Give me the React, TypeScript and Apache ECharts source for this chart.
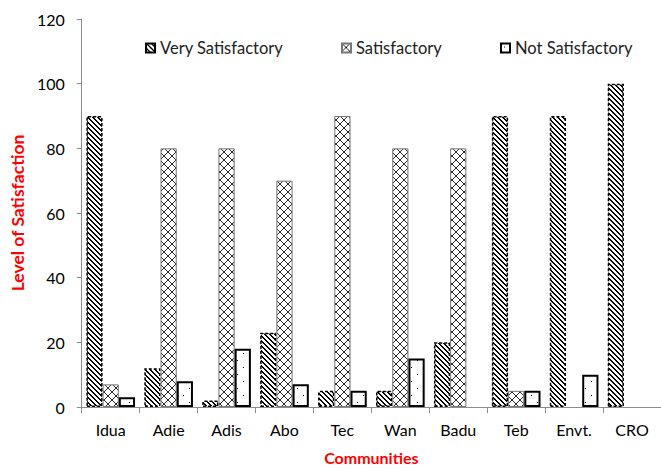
import React, { useEffect, useRef } from "react";
import * as echarts from "echarts";

const categories = ["Idua", "Adie", "Adis", "Abo", "Tec", "Wan", "Badu", "Teb", "Envt.", "CRO"];
const verySatisfactory = [90, 12, 2, 23, 5, 5, 20, 90, 90, 100];
const satisfactory = [7, 80, 80, 70, 90, 80, 80, 5, 0, 0];
const notSatisfactory = [3, 8, 18, 7, 5, 15, 0, 5, 10, 0];
const yTicks = { min: 0, max: 120, interval: 20 };

const FONT = "Lato, 'Open Sans', sans-serif";

function makeTile(w: number, h: number, pixels: Array<[number, number]>, ink: string) {
  const c = document.createElement("canvas");
  c.width = w;
  c.height = h;
  const ctx = c.getContext("2d")!;
  ctx.fillStyle = "#ffffff";
  ctx.fillRect(0, 0, w, h);
  ctx.fillStyle = ink;
  pixels.forEach(([x, y]) => ctx.fillRect(x, y, 1, 1));
  return c;
}

function diagPattern() {
  const n = 5;
  const px: Array<[number, number]> = [];
  for (let i = 0; i < n; i++) {
    px.push([i, i]);
    px.push([(i + 1) % n, i]);
  }
  return { image: makeTile(n, n, px, "#000000"), repeat: "repeat", imageWidth: n, imageHeight: n };
}

function lattice() {
  const n = 8;
  const px: Array<[number, number]> = [];
  for (let i = 0; i < n; i++) {
    px.push([i, i]);
    px.push([n - 1 - i, i]);
  }
  return { image: makeTile(n, n, px, "#2a2a2a"), repeat: "repeat", imageWidth: n, imageHeight: n };
}

function dots() {
  const w = 12, h = 14;
  const px: Array<[number, number]> = [[3, 3], [9, 10]];
  return { image: makeTile(w, h, px, "#000000"), repeat: "repeat", imageWidth: w, imageHeight: h };
}

const withHiddenZero = (arr: number[]) =>
  arr.map((v) => (v === 0 ? { value: v, itemStyle: { borderWidth: 0 } } : v));

export default function App() {
  const ref = useRef<HTMLDivElement>(null);
  useEffect(() => {
    if (!ref.current) return;
    const chart = echarts.init(ref.current, null, { renderer: "svg" });
    const legendText = { fontFamily: FONT, fontSize: 16.5, color: "#222", lineHeight: 18 };
    const legendBase = { top: 39, padding: 0, itemWidth: 9, itemHeight: 9, icon: "rect", textStyle: legendText };
    chart.setOption({
      animation: false,
      backgroundColor: "#ffffff",
      grid: { left: 81, right: -10, top: 19, bottom: 55, containLabel: false },
      legend: [
        { ...legendBase, left: 145, data: ["Very Satisfactory"] },
        { ...legendBase, left: 341, data: ["Satisfactory"] },
        { ...legendBase, left: 500, data: ["Not Satisfactory"] },
      ],
      xAxis: {
        type: "category",
        data: categories,
        name: "Communities",
        nameLocation: "middle",
        nameGap: 42,
        nameTextStyle: { color: "#ff0000", fontWeight: "bold", fontSize: 16, fontFamily: FONT },
        axisLine: { lineStyle: { color: "#8c8c8c", width: 1 } },
        axisTick: { show: true, length: 6, lineStyle: { color: "#8c8c8c" } },
        axisLabel: { color: "#000", fontSize: 16, fontFamily: FONT, margin: 14 },
        splitLine: { show: false },
      },
      yAxis: {
        type: "value",
        ...yTicks,
        name: "Level of Satisfaction",
        nameLocation: "middle",
        nameGap: 47,
        nameTextStyle: { color: "#ff0000", fontWeight: "bold", fontSize: 17.5, fontFamily: FONT },
        axisLine: { show: true, lineStyle: { color: "#8c8c8c", width: 1 } },
        axisTick: { show: true, length: 5, lineStyle: { color: "#8c8c8c" } },
        axisLabel: { color: "#000", fontSize: 16, fontFamily: FONT, margin: 17 },
        splitLine: { show: false },
      },
      series: [
        {
          name: "Very Satisfactory",
          type: "bar",
          data: withHiddenZero(verySatisfactory),
          barGap: "0%",
          barCategoryGap: "16%",
          itemStyle: { color: diagPattern(), borderColor: "#000", borderWidth: 1.5, borderType: [3, 2] },
        },
        {
          name: "Satisfactory",
          type: "bar",
          data: withHiddenZero(satisfactory),
          barGap: "0%",
          barCategoryGap: "16%",
          itemStyle: { color: lattice(), borderColor: "#777", borderWidth: 1 },
        },
        {
          name: "Not Satisfactory",
          type: "bar",
          data: withHiddenZero(notSatisfactory),
          barGap: "0%",
          barCategoryGap: "16%",
          itemStyle: { color: dots(), borderColor: "#000", borderWidth: 2 },
        },
      ],
    });
    return () => chart.dispose();
  }, []);
  return (
    <div
      ref={ref}
      style={{ position: "fixed", left: 0, top: 0, width: 661, height: 470, background: "#fff" }}
    />
  );
}
